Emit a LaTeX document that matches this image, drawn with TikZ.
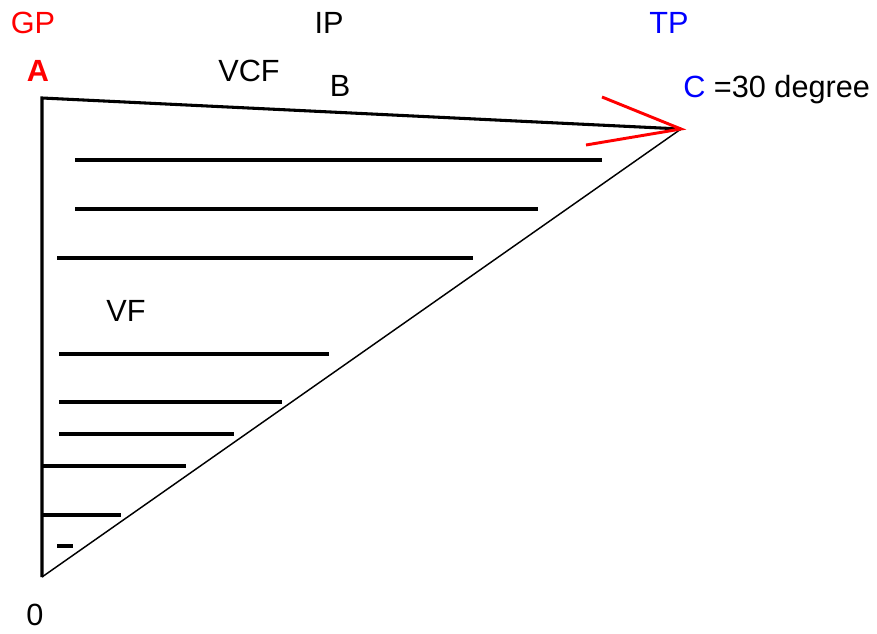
\documentclass[tikz,border=0pt]{standalone}
\usepackage{fontspec}
\setmainfont{Liberation Sans}
\begin{document}
\begin{tikzpicture}[x=0.75pt,y=-0.75pt,
  lbl/.style={inner sep=0pt,font=\fontsize{23}{27}\selectfont},
  thick line/.style={line width=2.3pt},
  thin line/.style={line width=1.1pt},
  redline/.style={draw=red,line width=2.2pt}]
\useasboundingbox (0,0) rectangle (877,634);
\coordinate (A) at (42,98);
\coordinate (C) at (681,129);
\coordinate (O) at (42,577);
\draw[thick line] (O) -- (A) -- (C);
\draw[thin line] (O) -- (C);
\coordinate (r1) at (602,97);
\coordinate (r2) at (586,145);
\draw[redline] (r1) -- (C) -- (r2);
% hatch lines
\draw[thick line] (75,160) -- (602,160);
\draw[thick line] (75,209) -- (538,209);
\draw[thick line] (57,258) -- (473,258);
\draw[thick line] (59,354) -- (329,354);
\draw[thick line] (59,402) -- (282,402);
\draw[thick line] (59,434) -- (234,434);
\draw[thick line] (42,466) -- (186,466);
\draw[thick line] (42,515) -- (121,515);
\draw[thick line] (57,546) -- (73,546);
% labels
\node[lbl,text=red] (gp) at (33,23) {GP};
\node[lbl] (ip) at (329,23) {IP};
\node[lbl,text=blue] (tp) at (669,23) {TP};
\node[lbl,text=red,font=\fontsize{23}{27}\selectfont\bfseries] (la) at (38,70.5) {A};
\node[lbl] (vcf) at (249,70.5) {VCF};
\node[lbl] (lb) at (340,86) {B};
\node[lbl,anchor=base west] (lc) at (683,98) {\textcolor{blue}{C} =30 degree};
\node[lbl] (vf) at (126,311) {VF};
\node[lbl] (zero) at (35,615) {0};
\end{tikzpicture}
\end{document}
